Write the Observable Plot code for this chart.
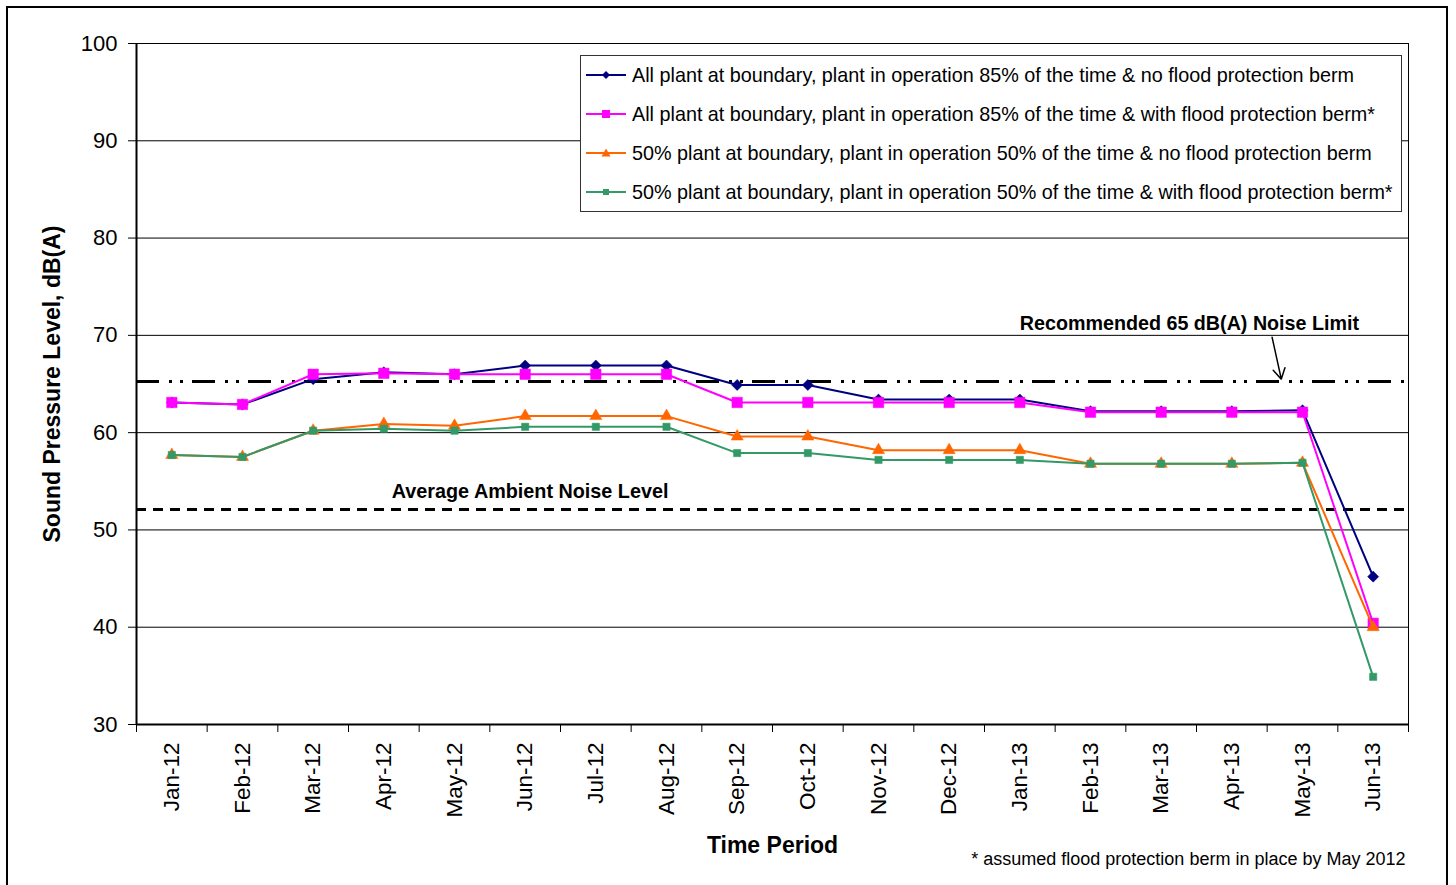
<!DOCTYPE html>
<html>
<head>
<meta charset="utf-8">
<script src="https://cdn.jsdelivr.net/npm/d3@7"></script>
<script src="https://cdn.jsdelivr.net/npm/@observablehq/plot@0.6"></script>
<style>
  html, body { margin: 0; padding: 0; background: #fff; }
  #wrap { position: relative; width: 1456px; height: 885px; overflow: hidden; font-family: "Liberation Sans", Arial, sans-serif; }
  #outer { position: absolute; left: 6px; top: 6px; width: 1442px; height: 900px; border: 2px solid #000; box-sizing: border-box; pointer-events: none; }
  #chart { position: absolute; left: 0; top: 0; }
  #legend { position: absolute; left: 580px; top: 55px; width: 822px; height: 157px; border: 1px solid #333; background: #fff; box-sizing: border-box; }
  .row { position: absolute; left: 0; height: 20px; display: flex; align-items: center; font-size: 19.8px; color: #000; white-space: nowrap; }
  .row svg { margin-left: 5px; margin-right: 6px; }
</style>
</head>
<body>
<div id="wrap">
  <div id="chart"></div>
  <div id="legend"></div>
  <div id="outer"></div>
</div>
<script>
// ---- data ----
const months = ["Jan-12","Feb-12","Mar-12","Apr-12","May-12","Jun-12","Jul-12","Aug-12","Sep-12","Oct-12","Nov-12","Dec-12","Jan-13","Feb-13","Mar-13","Apr-13","May-13","Jun-13"];
const seriesNames = [
  "All plant at boundary, plant in operation 85% of the time & no flood protection berm",
  "All plant at boundary, plant in operation 85% of the time & with flood protection berm*",
  "50% plant at boundary, plant in operation 50% of the time & no flood protection berm",
  "50% plant at boundary, plant in operation 50% of the time & with flood protection berm*"
];
const allNoBerm   = [63.1, 62.9, 65.5, 66.2, 66.0, 66.9, 66.9, 66.9, 64.9, 64.9, 63.4, 63.4, 63.4, 62.2, 62.2, 62.2, 62.3, 45.2];
const allBerm     = [63.1, 62.9, 66.0, 66.1, 66.0, 66.0, 66.0, 66.0, 63.1, 63.1, 63.1, 63.1, 63.1, 62.1, 62.1, 62.1, 62.1, 40.4];
const halfNoBerm  = [57.7, 57.5, 60.2, 60.9, 60.7, 61.7, 61.7, 61.7, 59.6, 59.6, 58.2, 58.2, 58.2, 56.8, 56.8, 56.8, 56.9, 40.0];
const halfBerm    = [57.7, 57.5, 60.2, 60.4, 60.2, 60.6, 60.6, 60.6, 57.9, 57.9, 57.2, 57.2, 57.2, 56.8, 56.8, 56.8, 56.9, 34.9];
const yTicks = [30, 40, 50, 60, 70, 80, 90, 100];
const noiseLimit = 65.25;
const ambientLevel = 52.1;
const limitLabel = "Recommended 65 dB(A) Noise Limit";
const ambientLabel = "Average Ambient Noise Level";
const limitArrow = [{x1: 15.57, y1: 69.8, x2: 15.7, y2: 65.5}];
const limitLabelPos = [{x: 14.4, y: 71.2}];
const ambientLabelPos = [{x: 5.07, y: 53.9}];
const yTitle = "Sound Pressure Level, dB(A)";
const xTitle = "Time Period";
const caption = "* assumed flood protection berm in place by May 2012";

// ---- styles ----
const styles = [
  {color: "#000080", symbol: "diamond2", r: 5.0},
  {color: "#FF00FF", symbol: "square",   r: 5.9},
  {color: "#FF6600", symbol: "triangle", r: 4.5},
  {color: "#339966", symbol: "square",   r: 4.1}
];
const seriesValues = [allNoBerm, allBerm, halfNoBerm, halfBerm];

const idx = months.map((m, i) => i);
const bounds = d3.range(-0.5, months.length, 1);
const font = "Liberation Sans, Arial, sans-serif";

const seriesMarks = [];
seriesValues.forEach((vals, s) => {
  const data = vals.map((v, i) => ({i, v}));
  const st = styles[s];
  seriesMarks.push(Plot.line(data, {x: "i", y: "v", stroke: st.color, strokeWidth: 2}));
  seriesMarks.push(Plot.dot(data, {x: "i", y: "v", symbol: () => st.symbol, r: st.r, fill: st.color, stroke: st.color, strokeWidth: 0.5}));
});

const chart = Plot.plot({
  width: 1456,
  height: 885,
  marginLeft: 136,
  marginRight: 48,
  marginTop: 43,
  marginBottom: 161,
  style: {fontFamily: font, background: "transparent", overflow: "visible"},
  x: {type: "linear", domain: [-0.5, months.length - 0.5]},
  y: {domain: [30, 100]},
  symbol: {type: "identity"},
  marks: [
    Plot.gridY(yTicks, {stroke: "#000", strokeOpacity: 1, strokeWidth: 1}),
    Plot.frame({stroke: "#000", strokeWidth: 1}),
    Plot.ruleY([noiseLimit], {stroke: "#000", strokeWidth: 3, strokeDasharray: "23,10,3,8,3,9"}),
    Plot.ruleY([ambientLevel], {stroke: "#000", strokeWidth: 3, strokeDasharray: "10,7"}),
    ...seriesMarks,
    Plot.ruleX([-0.5], {stroke: "#000", strokeWidth: 2}),
    Plot.ruleY([30], {stroke: "#000", strokeWidth: 2}),
    Plot.axisY(yTicks, {tickSize: 8, tickPadding: 11, fontSize: 22, label: null, stroke: "#000"}),
    Plot.axisX(idx, {tickSize: 0, tickPadding: 18, tickRotate: -90, fontSize: 22.5, tickFormat: i => months[i], label: null}),
    Plot.axisX(bounds, {tickSize: 8, tickFormat: () => "", label: null, stroke: "#000"}),
    Plot.text([yTitle], {frameAnchor: "left", dx: -84, rotate: -90, textAnchor: "middle", fontSize: 23, fontWeight: "bold", fill: "#000"}),
    Plot.text([xTitle], {frameAnchor: "bottom", dy: 128, fontSize: 23, fontWeight: "bold", fill: "#000"}),
    Plot.text([caption], {frameAnchor: "bottom-right", dx: -3, dy: 140, textAnchor: "end", fontSize: 18, fill: "#000"}),
    Plot.text(limitLabelPos, {x: "x", y: "y", text: () => limitLabel, fontSize: 19.7, fontWeight: "bold", fill: "#000"}),
    Plot.text(ambientLabelPos, {x: "x", y: "y", text: () => ambientLabel, fontSize: 19.8, fontWeight: "bold", fill: "#000"}),
    Plot.arrow(limitArrow, {x1: "x1", y1: "y1", x2: "x2", y2: "y2", stroke: "#000", strokeWidth: 1.5, headLength: 12})
  ]
});
document.getElementById("chart").appendChild(chart);

// ---- legend ----
const legend = document.getElementById("legend");
const legendSymbols = [
  {color: "#000080", shape: "diamond", size: 4},
  {color: "#FF00FF", shape: "square", size: 4},
  {color: "#FF6600", shape: "triangle", size: 4.5},
  {color: "#339966", shape: "square", size: 3}
];
seriesNames.forEach((name, s) => {
  const row = document.createElement("div");
  row.className = "row";
  row.style.top = (9 + s * 39) + "px";
  const ls = legendSymbols[s];
  let shape;
  if (ls.shape === "diamond") shape = `<path d="M20,${10 - ls.size} L${20 + ls.size},10 L20,${10 + ls.size} L${20 - ls.size},10 Z" fill="${ls.color}"/>`;
  else if (ls.shape === "square") shape = `<rect x="${20 - ls.size}" y="${10 - ls.size}" width="${2 * ls.size}" height="${2 * ls.size}" fill="${ls.color}"/>`;
  else shape = `<path d="M20,${10 - ls.size} L${20 + ls.size},${10 + ls.size * 0.8} L${20 - ls.size},${10 + ls.size * 0.8} Z" fill="${ls.color}"/>`;
  row.innerHTML = `<svg width="40" height="20"><line x1="0" y1="10" x2="40" y2="10" stroke="${ls.color}" stroke-width="2"/>${shape}</svg><span>${name}</span>`;
  legend.appendChild(row);
});
</script>
</body>
</html>
